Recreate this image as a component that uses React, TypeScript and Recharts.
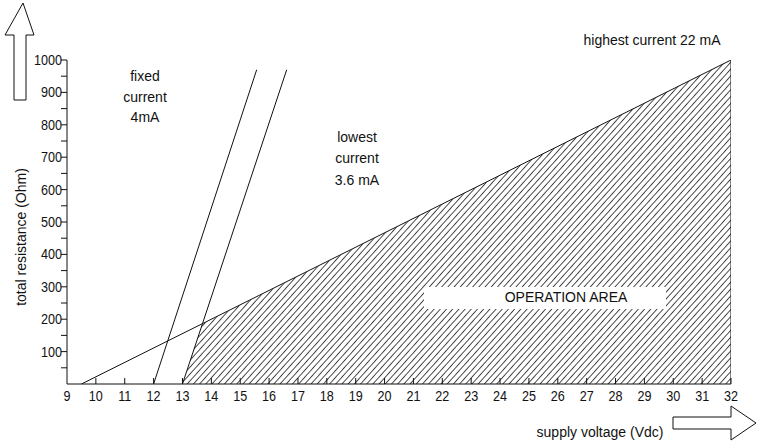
import { ComposedChart, Line, Area, XAxis, YAxis } from 'recharts';

// axis ticks
const xTicks = [9, 10, 11, 12, 13, 14, 15, 16, 17, 18, 19, 20, 21, 22, 23, 24, 25, 26, 27, 28, 29, 30, 31, 32];
const yTicks = [50, 100, 150, 200, 250, 300, 350, 400, 450, 500, 550, 600, 650, 700, 750, 800, 850, 900, 950, 1000];

// supply voltage (v) vs total resistance (r)
const highestCurrent = [{ v: 9.5, r: 0 }, { v: 32, r: 1000 }];
const fixedCurrent = [{ v: 12, r: 0 }, { v: 15.57, r: 970 }];
const lowestCurrent = [{ v: 13, r: 0 }, { v: 16.61, r: 970 }];
const rightEdge = [{ v: 32, r: 0 }, { v: 32, r: 1000 }];
const operationArea = [{ v: 13, r: 0 }, { v: 13.69, r: 185 }, { v: 32, r: 1000 }];

const FONT = "'Liberation Sans', Arial, sans-serif";
const INK = '#111';
const FS = 14;

const XTick = (props: any) => {
  const { x, y, payload } = props;
  return (
    <g>
      {payload.value > 9 && <line x1={x} y1={y} x2={x} y2={y - 6} stroke={INK} />}
      <text x={x} y={y + 17} textAnchor="middle" fontSize={14} fontFamily={FONT} fill={INK} transform={`translate(${x} 0) scale(0.9 1) translate(${-x} 0)`}>
        {payload.value}
      </text>
    </g>
  );
};

const YTick = (props: any) => {
  const { x, y, payload } = props;
  const v = payload.value;
  return (
    <g>
      <line x1={x - 6} y1={y} x2={x} y2={y} stroke={INK} />
      {v % 100 === 0 && (
        <text x={x - 5} y={y + 5} textAnchor="end" fontSize={14} fontFamily={FONT} fill={INK} transform={`translate(${x - 5} 0) scale(0.9 1) translate(${-(x - 5)} 0)`}>
          {v}
        </text>
      )}
    </g>
  );
};

export default function App() {
  return (
    <div style={{ position: 'absolute', left: 0, top: 0, width: 757, height: 446, background: '#fff' }}>
      <ComposedChart width={757} height={446} margin={{ top: 60, right: 26, left: 0, bottom: 0 }}>
        <defs>
          <pattern id="hatch" patternUnits="userSpaceOnUse" width={4.6} height={8} patternTransform="rotate(42)">
            <line x1={0} y1={0} x2={0} y2={8} stroke="#000" strokeWidth={1.4} />
          </pattern>
        </defs>
        <XAxis
          type="number"
          dataKey="v"
          domain={[9, 32]}
          ticks={xTicks}
          interval={0}
          height={62}
          tickSize={0}
          tickMargin={0}
          tickLine={false}
          tick={<XTick />}
          axisLine={{ stroke: INK }}
          allowDataOverflow
        />
        <YAxis
          type="number"
          dataKey="r"
          domain={[0, 1000]}
          ticks={yTicks}
          interval={0}
          width={67}
          tickSize={0}
          tickMargin={0}
          tickLine={false}
          tick={<YTick />}
          axisLine={{ stroke: INK }}
          allowDataOverflow
        />
        <Area
          data={operationArea}
          dataKey="r"
          type="linear"
          fill="url(#hatch)"
          fillOpacity={1}
          stroke="none"
          isAnimationActive={false}
        />
        <Line data={highestCurrent} dataKey="r" type="linear" stroke={INK} strokeWidth={1} dot={false} isAnimationActive={false} />
        <Line data={fixedCurrent} dataKey="r" type="linear" stroke={INK} strokeWidth={1} dot={false} isAnimationActive={false} />
        <Line data={lowestCurrent} dataKey="r" type="linear" stroke={INK} strokeWidth={1} dot={false} isAnimationActive={false} />
        <Line data={rightEdge} dataKey="r" type="linear" stroke={INK} strokeWidth={1} dot={false} isAnimationActive={false} />
      </ComposedChart>
      <svg
        width={757}
        height={446}
        style={{ position: 'absolute', left: 0, top: 0, pointerEvents: 'none' }}
        fontFamily={FONT}
        fill={INK}
      >
        <polygon points="23,3 34,35 26,35 26,100 14,100 14,35 5,35" fill="#fff" stroke={INK} />
        <polygon points="673,417 731,417 731,406 756,423 731,440 731,429 673,429" fill="#fff" stroke={INK} />
        <rect x={424} y={287} width={242} height={22} fill="#fff" />
        <text x={566} y={302} textAnchor="middle" fontSize={FS}>OPERATION AREA</text>
        <text x={652} y={45} textAnchor="middle" fontSize={FS}>highest current 22 mA</text>
        <text x={145} y={81} textAnchor="middle" fontSize={FS}>fixed</text>
        <text x={145} y={102} textAnchor="middle" fontSize={FS}>current</text>
        <text x={145} y={122} textAnchor="middle" fontSize={FS}>4mA</text>
        <text x={357} y={142} textAnchor="middle" fontSize={FS}>lowest</text>
        <text x={357} y={163} textAnchor="middle" fontSize={FS}>current</text>
        <text x={357} y={185} textAnchor="middle" fontSize={FS}>3.6 mA</text>
        <text x={600} y={437} textAnchor="middle" fontSize={FS}>supply voltage (Vdc)</text>
        <text x={26} y={237} textAnchor="middle" fontSize={FS} transform="rotate(-90 26 237)">total resistance (Ohm)</text>
      </svg>
    </div>
  );
}
